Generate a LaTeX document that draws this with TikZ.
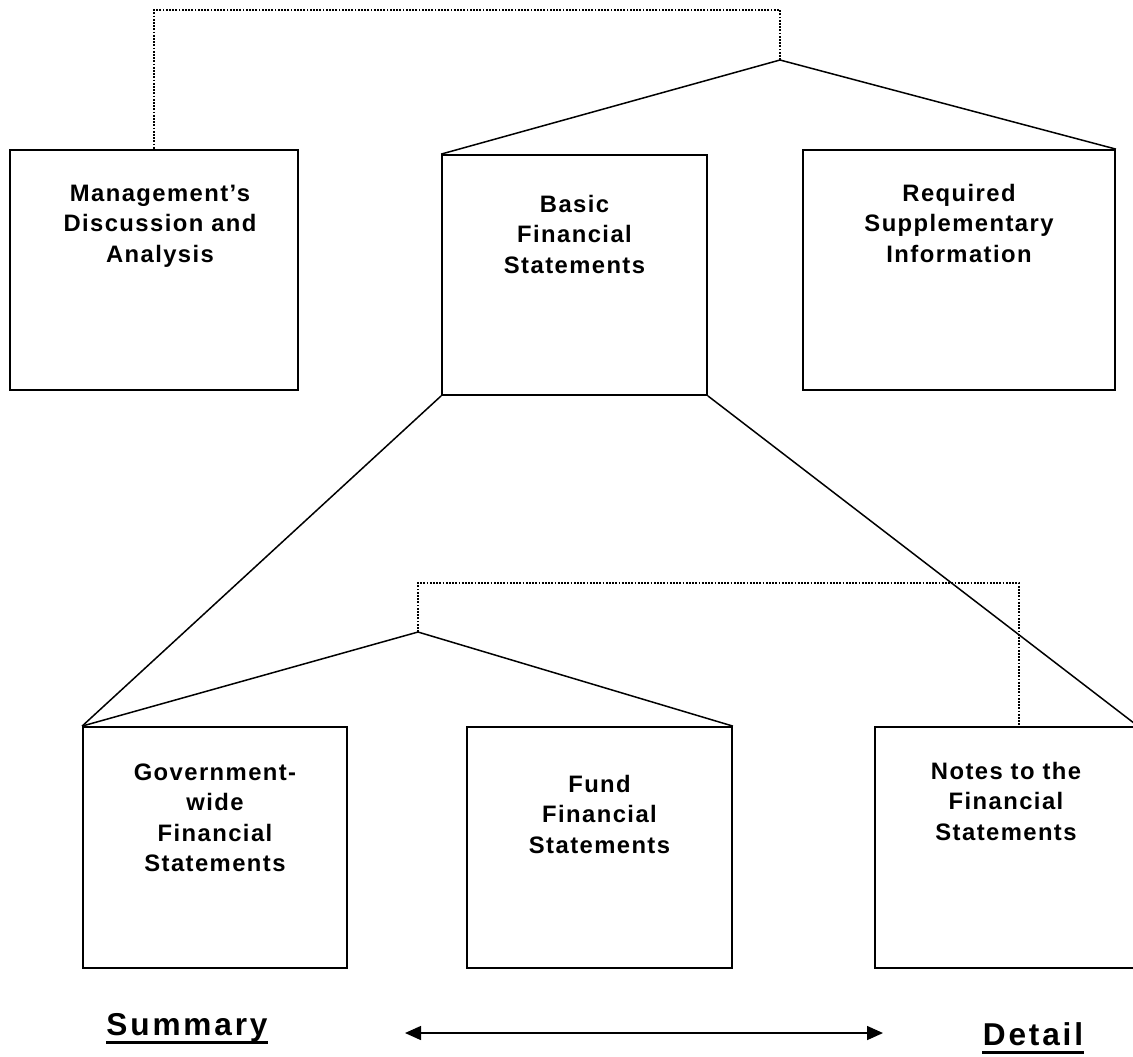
\documentclass[tikz,border=0pt]{standalone}
\usepackage{fontspec}
\setmainfont{Liberation Sans}
\newfontfamily\boxfont{Liberation Sans}[LetterSpace=6]
\newfontfamily\capfont{Liberation Sans}[LetterSpace=9]
\usetikzlibrary{arrows.meta}
\begin{document}
\begin{tikzpicture}[x=0.5pt,y=-0.5pt,
  box/.style={draw,line width=0.9pt,inner sep=0pt,minimum height=120pt},
  lbl/.style={text width=135pt,align=center,anchor=base,inner sep=0pt,font=\boxfont\bfseries\fontsize{11.9}{15.25}\selectfont},
  big/.style={anchor=base,inner sep=0pt,font=\capfont\bfseries\fontsize{15.8}{18}\selectfont},
  link/.style={line width=0.75pt},
  dots/.style={line width=0.9pt,dash pattern=on 0.9pt off 0.7pt}]
\useasboundingbox (0,0) rectangle (1133,1056);
% upper row
\node[box,minimum width=144pt] (mda) at (154,270) {};
\node[box,minimum width=132.5pt] (bfs) at (574.5,275) {};
\node[box,minimum width=156pt] (rsi) at (959,270) {};
\node[lbl] (mdatxt) at ([xshift=3pt,yshift=-26pt]mda.north) {Management’s\\Discussion and\\Analysis};
\node[lbl] (bfstxt) at ([yshift=-29pt]bfs.north) {Basic\\Financial\\Statements};
\node[lbl] (rsitxt) at ([yshift=-26pt]rsi.north) {Required\\Supplementary\\Information};
% lower row
\node[box,minimum width=132pt,minimum height=120.5pt] (gw) at (215,847.5) {};
\node[box,minimum width=132.5pt,minimum height=120.5pt] (fund) at (599.5,847.5) {};
\node[box,minimum width=131pt,minimum height=120.5pt] (notes) at (1006,847.5) {};
\node[lbl] (gwtxt) at ([yshift=-27pt]gw.north) {Government-\\wide\\Financial\\Statements};
\node[lbl] (fundtxt) at ([yshift=-33pt]fund.north) {Fund\\Financial\\Statements};
\node[lbl] (notestxt) at ([yshift=-26.5pt]notes.north) {Notes to the\\Financial\\Statements};
% fan lines
\coordinate (top) at (780,60);
\coordinate (low) at (418,632);
\draw[link] (bfs.north west) -- (top) -- (rsi.north east);
\draw[dots] (top) -- ++(0,-50) -| (mda.north);
\draw[link] (bfs.south west) -- (gw.north west);
\draw[link] (bfs.south east) -- (notes.north east);
\draw[link] (gw.north west) -- (low) -- (fund.north east);
\draw[dots] (low) -- ++(0,-49) -| ([xshift=6.5pt]notes.north);
% summary / detail
\node[big] (sum) at (187,1035) {Summary};
\node[big] (det) at (1033,1045) {Detail};
\draw[line width=1.5pt] ([yshift=-3.5pt]sum.base west) -- ([yshift=-3.5pt]sum.base east);
\draw[line width=1.5pt] ([yshift=-3.5pt]det.base west) -- ([yshift=-3.5pt]det.base east);
\coordinate (al) at (405,1033);
\coordinate (ar) at (883,1033);
\draw[link,{Triangle[length=8pt,width=7pt]}-{Triangle[length=8pt,width=7pt]}] (al) -- (ar);
\end{tikzpicture}
\end{document}
